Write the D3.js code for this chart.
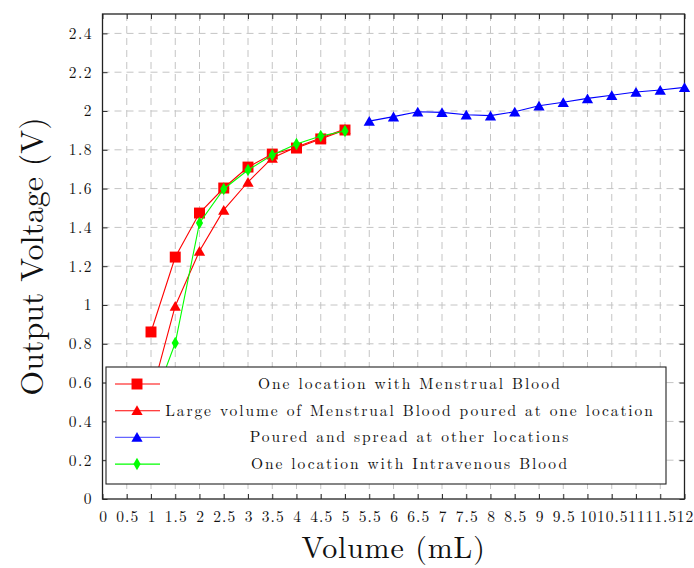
<!DOCTYPE html>
<html><head><meta charset="utf-8">
<script src="https://cdn.jsdelivr.net/npm/d3@7"></script>
<style>body{margin:0;background:#fff}</style>
</head><body>
<svg id="c" width="694" height="568"></svg>
<script>
const xTicks = d3.range(0, 12.001, 0.5);
const yTicks = d3.range(0, 2.401, 0.2);
const sqX = [1, 1.5, 2, 2.5, 3, 3.5, 4, 4.5, 5];
const sqY = [0.861, 1.247, 1.474, 1.603, 1.711, 1.778, 1.809, 1.856, 1.902];
const triX = [1, 1.5, 2, 2.5, 3, 3.5, 4, 4.5, 5];
const triY = [0.53, 0.995, 1.278, 1.49, 1.634, 1.758, 1.814, 1.861, 1.907];
const blueX = [5.5, 6, 6.5, 7, 7.5, 8, 8.5, 9, 9.5, 10, 10.5, 11, 11.5, 12];
const blueY = [1.948, 1.971, 1.996, 1.993, 1.981, 1.976, 1.996, 2.027, 2.045, 2.065, 2.081, 2.098, 2.108, 2.122];
const grX = [1, 1.5, 2, 2.5, 3, 3.5, 4, 4.5, 5];
const grY = [0.47, 0.804, 1.423, 1.598, 1.696, 1.773, 1.83, 1.871, 1.897];
const legendLabels = ["One location with Menstrual Blood", "Large volume of Menstrual Blood poured at one location", "Poured and spread at other locations", "One location with Intravenous Blood"];

const FONT = "Latin Modern Roman";
const svg = d3.select("#c");
const L = 102.5, R = 684.5, T = 14, B = 499;
const x = d3.scaleLinear().domain([0, 12]).range([L, R]);
const y = d3.scaleLinear().domain([0, 2.5]).range([B, T]);

// grid
svg.append("g").selectAll("line").data(xTicks.filter(v => v > 0 && v < 12)).join("line")
  .attr("x1", d => x(d)).attr("x2", d => x(d)).attr("y1", T).attr("y2", B)
  .attr("stroke", "#c4c4c4").attr("stroke-dasharray", "7,5").attr("stroke-width", 1);
svg.append("g").selectAll("line").data(yTicks.filter(v => v > 0)).join("line")
  .attr("y1", d => y(d)).attr("y2", d => y(d)).attr("x1", L).attr("x2", R)
  .attr("stroke", "#c4c4c4").attr("stroke-dasharray", "7,5").attr("stroke-width", 1);

// axes with inner ticks
const ax = svg.append("g").attr("transform", `translate(0,${B})`)
  .call(d3.axisBottom(x).tickValues(xTicks).tickFormat(d3.format("~g")).tickSizeInner(-5).tickSizeOuter(0).tickPadding(12));
ax.select(".domain").remove();
ax.attr("font-family", FONT).attr("font-size", 15.5);
ax.selectAll("text").attr("fill", "#111").attr("letter-spacing", 1).attr("dx", 0.5);
ax.selectAll("line").attr("stroke", "#333");
const axT = svg.append("g").attr("transform", `translate(0,${T})`)
  .call(d3.axisTop(x).tickValues(xTicks).tickFormat("").tickSizeInner(-5).tickSizeOuter(0));
axT.select(".domain").remove(); axT.selectAll("line").attr("stroke", "#333");
const ay = svg.append("g").attr("transform", `translate(${L},0)`)
  .call(d3.axisLeft(y).tickValues(yTicks).tickFormat(d3.format("~g")).tickSizeInner(-5).tickSizeOuter(0).tickPadding(9.5));
ay.select(".domain").remove();
ay.attr("font-family", FONT).attr("font-size", 15.5);
ay.selectAll("text").attr("fill", "#111").attr("letter-spacing", 1.5);
ay.selectAll("line").attr("stroke", "#333");
const ayR = svg.append("g").attr("transform", `translate(${R},0)`)
  .call(d3.axisRight(y).tickValues(yTicks).tickFormat("").tickSizeInner(-5).tickSizeOuter(0));
ayR.select(".domain").remove(); ayR.selectAll("line").attr("stroke", "#333");

svg.append("rect").attr("x", L).attr("y", T).attr("width", R - L).attr("height", B - T)
  .attr("fill", "none").attr("stroke", "#222").attr("stroke-width", 1.3);

const line = d3.line().x(d => x(d[0])).y(d => y(d[1]));
const zip = (a, b) => a.map((v, i) => [v, b[i]]);
const sym = {
  square: d3.symbol(d3.symbolSquare, 120),
  tri: d3.symbol(d3.symbolTriangle, 55),
  diamond: d3.symbol(d3.symbolDiamond, 45)
};
const series = [
  {pts: zip(sqX, sqY), color: "#ff0000", m: "square"},
  {pts: zip(triX, triY), color: "#ff0000", m: "tri"},
  {pts: zip(blueX, blueY), color: "#0000ff", m: "tri"},
  {pts: zip(grX, grY), color: "#00ff00", m: "diamond"}
];
series.forEach(s => {
  svg.append("path").attr("d", line(s.pts)).attr("fill", "none").attr("stroke", s.color).attr("stroke-width", 1.1);
  svg.append("g").selectAll("path").data(s.pts).join("path")
    .attr("d", sym[s.m]).attr("transform", d => `translate(${x(d[0])},${y(d[1]) + (s.m === "tri" ? 1.5 : 0)})`)
    .attr("fill", s.color);
});

// legend
const lg = svg.append("g");
lg.append("rect").attr("x", 106).attr("y", 367).attr("width", 560).attr("height", 117)
  .attr("fill", "#fff").attr("stroke", "#222").attr("stroke-width", 1.1);
legendLabels.forEach((t, i) => {
  const yy = 384 + i * 26.7;
  const s = series[i];
  lg.append("line").attr("x1", 115).attr("x2", 160).attr("y1", yy).attr("y2", yy)
    .attr("stroke", s.color).attr("stroke-width", 1.1).attr("opacity", i === 2 ? 0.6 : 1);
  lg.append("path").attr("d", sym[s.m]).attr("transform", `translate(137,${yy + (s.m === "tri" ? 1 : 0)})`).attr("fill", s.color);
  lg.append("text").attr("x", 410).attr("y", yy + 5).attr("text-anchor", "middle")
    .attr("font-family", FONT).attr("font-size", 15.5).attr("letter-spacing", 1.9).attr("fill", "#111").text(t);
});

svg.append("text").attr("x", 393.5).attr("y", 558).attr("text-anchor", "middle")
  .attr("font-family", FONT).attr("font-size", 30).attr("letter-spacing", 0.8).attr("fill", "#111").text("Volume (mL)");
svg.append("text").attr("transform", "translate(43,256.5) rotate(-90)").attr("text-anchor", "middle")
  .attr("font-family", FONT).attr("font-size", 32).attr("fill", "#111").text("Output Voltage (V)");
</script>
</body></html>
